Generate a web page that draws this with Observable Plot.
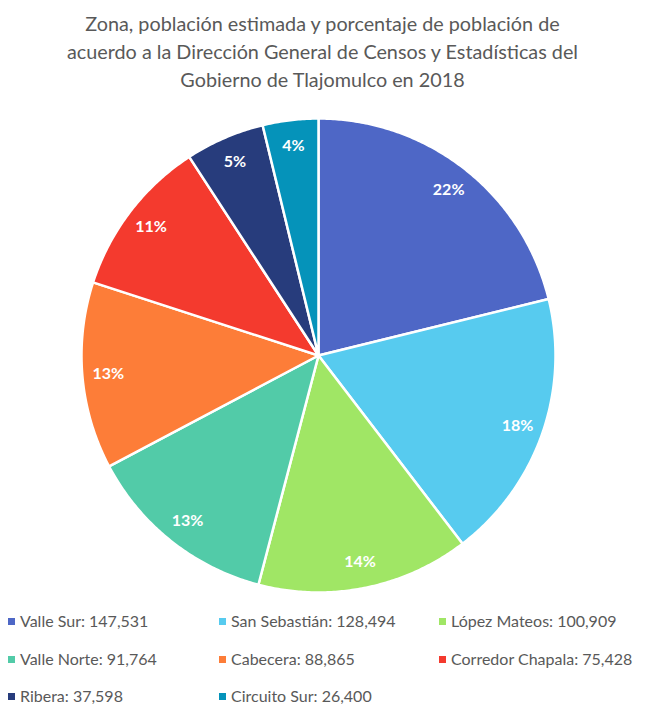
<!DOCTYPE html>
<html><head><meta charset="utf-8">
<script src="https://cdn.jsdelivr.net/npm/d3@7"></script>
<script src="https://cdn.jsdelivr.net/npm/@observablehq/plot@0.6"></script>
<style>
body{margin:0;background:#fff;font-family:Lato,"Open Sans",sans-serif;width:645px;height:706px;overflow:hidden;}
#title{color:#595959;font-size:19.8px;line-height:28px;text-align:center;padding-top:9px;height:83px;}
#chart{height:510px;}
#legend{position:relative;height:112px;color:#595959;font-size:16px;}
.item{position:absolute;white-space:nowrap;line-height:20px;}
.sw{display:inline-block;width:7px;height:7px;margin-right:5px;vertical-align:middle;position:relative;top:-1px;}
</style></head><body>
<div id="title">Zona, población estimada y porcentaje de población de<br>acuerdo a la Dirección General de Censos y Estadísticas del<br>Gobierno de Tlajomulco en 2018</div>
<div id="chart"></div>
<div id="legend"></div>
<script>
const zonas = ["Valle Sur","San Sebastián","López Mateos","Valle Norte","Cabecera","Corredor Chapala","Ribera","Circuito Sur"];
const poblacion = [147531,128494,100909,91764,88865,75428,37598,26400];
const etiquetas = ["22%","18%","14%","13%","13%","11%","5%","4%"];
const colores = ["#4E67C6","#57CBEF","#A0E665","#52CBA8","#FD7D38","#F43A2E","#273C7C","#0593BA"];

const total = d3.sum(poblacion);
const slices = [];
const labels = [];
let cum = 0;
zonas.forEach((z, i) => {
  const a0 = cum / total * 2 * Math.PI;
  cum += poblacion[i];
  const a1 = cum / total * 2 * Math.PI;
  slices.push({zona: z, x: 0, y: 0});
  const n = Math.max(2, Math.ceil((a1 - a0) / (Math.PI / 360)));
  for (let k = 0; k <= n; k++) {
    const a = a0 + (a1 - a0) * k / n;
    slices.push({zona: z, x: Math.sin(a), y: Math.cos(a)});
  }
  slices.push({zona: z, x: 0, y: 0});
  const am = (a0 + a1) / 2;
  labels.push({zona: z, x: 0.89 * Math.sin(am), y: 0.89 * Math.cos(am), text: etiquetas[i]});
});

const cx = 318, cy = 263, R = 237;
const chart = Plot.plot({
  width: 645,
  height: 510,
  margin: 0,
  x: {domain: [-1, 1], range: [cx - R, cx + R], axis: null},
  y: {domain: [-1, 1], range: [cy + R, cy - R], axis: null},
  color: {domain: zonas, range: colores},
  style: {background: "white"},
  marks: [
    Plot.line(slices, {x: "x", y: "y", z: "zona", fill: "zona", stroke: "white", strokeWidth: 2.5, strokeLinejoin: "round", curve: "linear"}),
    Plot.text(labels, {x: "x", y: "y", text: "text", fill: "white", fontWeight: "bold", fontSize: 16, fontFamily: "Lato, sans-serif"})
  ]
});
document.getElementById("chart").appendChild(chart);

const legend = document.getElementById("legend");
const colX = [8, 219, 439];
const rowY = [9, 47, 84];
const fmt = d3.format(",");
zonas.forEach((z, i) => {
  const d = document.createElement("div");
  d.className = "item";
  d.style.left = colX[i % 3] + "px";
  d.style.top = rowY[Math.floor(i / 3)] + "px";
  d.innerHTML = `<span class="sw" style="background:${colores[i]}"></span>${z}: ${fmt(poblacion[i])}`;
  legend.appendChild(d);
});
</script>
</body></html>
